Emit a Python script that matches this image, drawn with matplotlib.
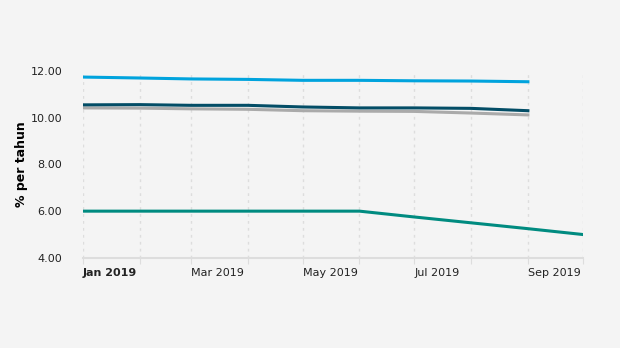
import numpy as np
import pandas as pd
import matplotlib.pyplot as plt
import matplotlib.dates as mdates

# monthly data, % per year
months = pd.date_range('2019-01-01', '2019-10-01', freq='MS')
months_9 = months[:9]
light_blue = [11.74, 11.70, 11.66, 11.64, 11.60, 11.60, 11.58, 11.57, 11.54]
navy = [10.55, 10.56, 10.53, 10.53, 10.46, 10.42, 10.42, 10.40, 10.30]
grey = [10.42, 10.41, 10.38, 10.36, 10.30, 10.28, 10.27, 10.20, 10.12]
bi_rate = [6.00, 6.00, 6.00, 6.00, 6.00, 6.00, 5.75, 5.50, 5.25, 5.00]

tick_labels = ['Jan 2019', '', 'Mar 2019', '', 'May 2019', '', 'Jul 2019', '', 'Sep 2019', '']

bg = '#f4f4f4'
fig = plt.figure(figsize=(6.2, 3.48), dpi=100, facecolor=bg)
ax = fig.add_axes([0.134, 0.259, 0.806, 0.537], facecolor=bg)

ax.plot(months_9, light_blue, color='#00a3dd', lw=2.2)
ax.plot(months_9, grey, color='#aaaaaa', lw=2.2)
ax.plot(months_9, navy, color='#034d66', lw=2.2)
ax.plot(months, bi_rate, color='#008b80', lw=2.2)

ax.set_xlim(months[0], months[-1])
ax.set_ylim(4, 12)
ax.set_yticks([4, 6, 8, 10, 12])
ax.set_yticklabels(['%.2f' % v for v in [4, 6, 8, 10, 12]])

ax.set_xticks(months)
ax.set_xticklabels(tick_labels)
for lbl in ax.get_xticklabels():
    lbl.set_horizontalalignment('left')
ax.get_xticklabels()[0].set_fontweight('bold')
ax.get_xticklabels()[0].set_color('black')

ax.grid(axis='x', color='#dddddd', linestyle=(0, (2, 3)), lw=1)
for s in ['top', 'right', 'left']:
    ax.spines[s].set_visible(False)
ax.spines['bottom'].set_color('#dddddd')
ax.spines['bottom'].set_linewidth(1.5)

ax.tick_params(axis='x', length=4, color='#dddddd', labelsize=8, labelcolor='#222222', pad=3)
ax.tick_params(axis='y', length=0, labelsize=8, labelcolor='#222222', pad=15)

ax.set_ylabel('% per tahun', fontsize=9, fontweight='bold')
ax.yaxis.set_label_coords(-0.11, 0.5)

fig.savefig('out.png', dpi=100, facecolor=bg)
